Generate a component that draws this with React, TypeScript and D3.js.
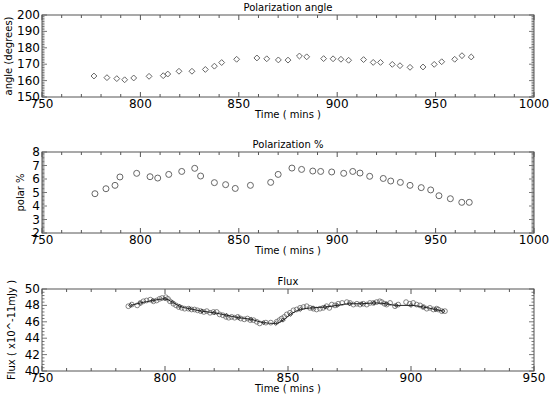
import React, { useEffect, useRef } from 'react';
import * as d3 from 'd3';

// Polarization angle (degrees) vs time (mins)
const angleTime = [776.4, 783, 788, 792, 796.6, 804.4, 811.6, 813.9, 819.6, 826.2, 833, 837.6, 841.3, 848.9, 859.2, 864.2, 870.1, 875, 880.8, 884.5, 893.1, 897.9, 901.9, 905.8, 913.4, 918.3, 922, 928, 931.9, 937, 943.6, 949.3, 953.1, 959.7, 963.4, 968.1];
const angleValue = [162.8, 161.8, 161.2, 160.5, 161.6, 162.6, 163, 164, 165.7, 165.7, 166.8, 168.8, 171, 173, 173.8, 173.3, 172.6, 172.5, 175, 174.5, 173.4, 173.3, 173, 172.4, 172.8, 171.1, 171.1, 169.9, 169.1, 168.1, 168.3, 169.9, 171.5, 173, 175.2, 174.4];

// Polarization % vs time
const polarTime = [776.9, 782.5, 787.1, 789.6, 798.1, 804.9, 808.8, 814.4, 821, 827.6, 830.6, 837.6, 843.3, 848.2, 855.9, 866.2, 870, 877, 881.9, 887.6, 891.6, 897.2, 903.3, 907.9, 911.6, 916.5, 923.4, 927.2, 932.1, 937, 942.7, 947.5, 951.7, 957.5, 963.3, 967.1];
const polarValue = [4.91, 5.28, 5.53, 6.15, 6.42, 6.17, 6.07, 6.34, 6.56, 6.79, 6.22, 5.73, 5.58, 5.3, 5.53, 5.75, 6.34, 6.81, 6.71, 6.59, 6.56, 6.52, 6.42, 6.56, 6.44, 6.2, 6.04, 5.85, 5.75, 5.53, 5.36, 5.19, 4.76, 4.54, 4.27, 4.27];

// Flux samples (circles)
const fluxTime = [785.1, 786.5, 788.7, 790, 791.2, 792.5, 794, 795.3, 796.6, 797.8, 798.8, 800.3, 801.2, 802, 803.4, 804.5, 805.6, 806.8, 808, 809.5, 810.8, 812, 813.2, 814.5, 815.8, 817, 818.3, 819.7, 821, 822.2, 823.5, 824.8, 825.9, 827.1, 828.3, 829.6, 830.8, 832.2, 833.5, 834.7, 836, 837.3, 838.5, 841, 843, 845.4, 846.5, 847.4, 848.5, 849.5, 850.8, 852.2, 853.5, 854.9, 856.3, 857.6, 858.9, 860.3, 861.6, 863, 864.3, 865.7, 866.8, 867.8, 869.1, 870.4, 872, 873.9, 875.2, 876.6, 878, 879.3, 880.6, 882, 883.3, 884.7, 886, 887.3, 888.1, 889.2, 890.1, 891.5, 893.5, 894.8, 898, 899.5, 900.9, 902.3, 903.7, 905, 906.4, 907.7, 909.1, 910.4, 911.1, 912.5, 913.8];
const fluxValue = [47.9, 48.1, 48.0, 48.3, 48.5, 48.6, 48.7, 48.5, 48.6, 48.8, 48.9, 49.0, 48.8, 48.5, 48.2, 48.0, 47.8, 47.7, 47.6, 47.6, 47.5, 47.5, 47.4, 47.3, 47.2, 47.3, 47.1, 47.2, 47.2, 46.9, 46.8, 46.6, 46.5, 46.6, 46.5, 46.6, 46.4, 46.3, 46.4, 46.2, 46.2, 46.0, 45.8, 45.9, 45.9, 46.0, 46.2, 46.4, 46.6, 46.9, 47.1, 47.4, 47.5, 47.7, 47.8, 47.9, 47.7, 47.6, 47.5, 47.6, 47.7, 47.9, 47.7, 48.1, 48.0, 48.2, 48.3, 48.4, 48.3, 48.1, 48.2, 48.1, 48.2, 48.1, 48.3, 48.3, 48.4, 48.5, 48.4, 48.2, 48.1, 48.3, 47.9, 48.1, 48.4, 48.2, 48.3, 48.1, 48.0, 47.8, 47.6, 47.7, 47.5, 47.6, 47.5, 47.3, 47.3];

// Smoothed flux (line with small diamonds)
const smoothTime = [786, 790, 795, 800, 803, 806, 810, 815, 820, 825, 830, 835, 840, 845, 848, 851, 855, 860, 865, 870, 875, 880, 885, 890, 894, 900, 905, 910, 913];
const smoothValue = [48.0, 48.3, 48.6, 48.8, 48.4, 47.9, 47.6, 47.3, 47.1, 46.8, 46.5, 46.3, 45.9, 45.8, 46.2, 46.9, 47.5, 47.7, 47.8, 48.0, 48.2, 48.2, 48.3, 48.2, 48.0, 48.0, 47.8, 47.5, 47.3];

const W = 550;
const H = 396;
const left = 42;
const right = 534;
const axisColor = '#555';
const markColor = '#666';
const font = 'DejaVu Sans, sans-serif';

type PanelOpts = {
  top: number;
  bottom: number;
  title: string;
  yLabel: string;
  yLabelX: number;
  xDomain: [number, number];
  yDomain: [number, number];
  xStep: number;
  yStep: number;
  yMinor: number;
};

function drawPanel(svg: d3.Selection<SVGSVGElement, unknown, null, undefined>, o: PanelOpts) {
  const x = d3.scaleLinear().domain(o.xDomain).range([left, right]);
  const y = d3.scaleLinear().domain(o.yDomain).range([o.bottom, o.top]);
  const g = svg.append('g');

  g.append('rect')
    .attr('x', left)
    .attr('y', o.top)
    .attr('width', right - left)
    .attr('height', o.bottom - o.top)
    .attr('fill', 'none')
    .attr('stroke', axisColor)
    .attr('stroke-width', 1);

  // x ticks (top + bottom, inward), minor every 10
  const xMinor = d3.range(o.xDomain[0], o.xDomain[1] + 0.001, 10);
  xMinor.forEach((t) => {
    const major = Math.abs(t % 50) < 0.001;
    const len = major ? 5 : 3;
    g.append('line').attr('x1', x(t)).attr('x2', x(t)).attr('y1', o.bottom).attr('y2', o.bottom - len).attr('stroke', axisColor);
    g.append('line').attr('x1', x(t)).attr('x2', x(t)).attr('y1', o.top).attr('y2', o.top + len).attr('stroke', axisColor);
  });
  d3.range(o.xDomain[0], o.xDomain[1] + 0.001, o.xStep).forEach((t) => {
    g.append('text')
      .attr('x', x(t))
      .attr('y', o.bottom + 11)
      .attr('text-anchor', 'middle')
      .attr('font-size', 12)
      .attr('font-family', font)
      .text(t);
  });

  // y ticks (left + right, inward)
  const n = Math.round((o.yDomain[1] - o.yDomain[0]) / o.yMinor);
  const perMajor = Math.round(o.yStep / o.yMinor);
  d3.range(0, n + 1).forEach((i) => {
    const v = o.yDomain[0] + i * o.yMinor;
    const major = i % perMajor === 0;
    const len = major ? 5 : 2.5;
    g.append('line').attr('x1', left).attr('x2', left + len).attr('y1', y(v)).attr('y2', y(v)).attr('stroke', axisColor).attr('stroke-width', 0.8);
    g.append('line').attr('x1', right).attr('x2', right - len).attr('y1', y(v)).attr('y2', y(v)).attr('stroke', axisColor).attr('stroke-width', 0.8);
  });
  d3.range(o.yDomain[0], o.yDomain[1] + 0.001, o.yStep).forEach((v) => {
    g.append('text')
      .attr('x', left - 2)
      .attr('y', y(v) + 4)
      .attr('text-anchor', 'end')
      .attr('font-size', 12)
      .attr('font-family', font)
      .text(v);
  });

  g.append('text')
    .attr('x', (left + right) / 2)
    .attr('y', o.top - 4)
    .attr('text-anchor', 'middle')
    .attr('font-size', 10)
    .attr('font-family', font)
    .text(o.title);

  g.append('text')
    .attr('x', (left + right) / 2)
    .attr('y', o.bottom + 21)
    .attr('text-anchor', 'middle')
    .attr('font-size', 10)
    .attr('font-family', font)
    .text('Time ( mins )');

  g.append('text')
    .attr('transform', `translate(${o.yLabelX}, ${(o.top + o.bottom) / 2}) rotate(-90)`)
    .attr('text-anchor', 'middle')
    .attr('font-size', 10)
    .attr('font-family', font)
    .text(o.yLabel);

  return { x, y, g };
}

const App = () => {
  const svgRef = useRef<SVGSVGElement>(null);

  useEffect(() => {
    const svg = d3.select(svgRef.current as SVGSVGElement);
    svg.selectAll('*').remove();

    // Panel 1: polarization angle
    const p1 = drawPanel(svg, {
      top: 15, bottom: 97, title: 'Polarization angle', yLabel: 'angle (degrees)', yLabelX: 12,
      xDomain: [750, 1000], yDomain: [150, 200], xStep: 50, yStep: 10, yMinor: 1,
    });
    const diamond = d3.symbol().type(d3.symbolDiamond2).size(22);
    p1.g.selectAll('path.pt')
      .data(angleTime)
      .enter()
      .append('path')
      .attr('class', 'pt')
      .attr('d', diamond)
      .attr('transform', (d, i) => `translate(${p1.x(d)},${p1.y(angleValue[i])})`)
      .attr('fill', 'none')
      .attr('stroke', markColor)
      .attr('stroke-width', 1);

    // Panel 2: polarization %
    const p2 = drawPanel(svg, {
      top: 152, bottom: 233, title: 'Polarization %', yLabel: 'polar %', yLabelX: 24,
      xDomain: [750, 1000], yDomain: [2, 8], xStep: 50, yStep: 1, yMinor: 0.1,
    });
    p2.g.selectAll('circle')
      .data(polarTime)
      .enter()
      .append('circle')
      .attr('cx', (d) => p2.x(d))
      .attr('cy', (d, i) => p2.y(polarValue[i]))
      .attr('r', 3)
      .attr('fill', 'none')
      .attr('stroke', markColor);

    // Panel 3: flux
    const p3 = drawPanel(svg, {
      top: 289, bottom: 371, title: 'Flux', yLabel: 'Flux ( x10^-11mJy )', yLabelX: 15,
      xDomain: [750, 950], yDomain: [40, 50], xStep: 50, yStep: 2, yMinor: 0.4,
    });
    p3.g.selectAll('circle')
      .data(fluxTime)
      .enter()
      .append('circle')
      .attr('cx', (d) => p3.x(d))
      .attr('cy', (d, i) => p3.y(fluxValue[i]))
      .attr('r', 2.4)
      .attr('fill', 'none')
      .attr('stroke', markColor)
      .attr('stroke-width', 0.8);

    const line = d3.line<number>()
      .x((d) => p3.x(d))
      .y((d, i) => p3.y(smoothValue[i]))
      .curve(d3.curveMonotoneX);
    p3.g.append('path')
      .attr('d', line(smoothTime))
      .attr('fill', 'none')
      .attr('stroke', '#222')
      .attr('stroke-width', 1);
    const smallDiamond = d3.symbol().type(d3.symbolDiamond2).size(10);
    p3.g.selectAll('path.sm')
      .data(smoothTime)
      .enter()
      .append('path')
      .attr('class', 'sm')
      .attr('d', smallDiamond)
      .attr('transform', (d, i) => `translate(${p3.x(d)},${p3.y(smoothValue[i])})`)
      .attr('fill', 'none')
      .attr('stroke', '#222')
      .attr('stroke-width', 0.8);

    return () => {
      svg.selectAll('*').remove();
    };
  }, []);

  return (
    <div style={{ position: 'absolute', left: 0, top: 0 }}>
      <svg ref={svgRef} width={W} height={H} style={{ display: 'block', background: '#fff' }} />
    </div>
  );
};

export default App;
